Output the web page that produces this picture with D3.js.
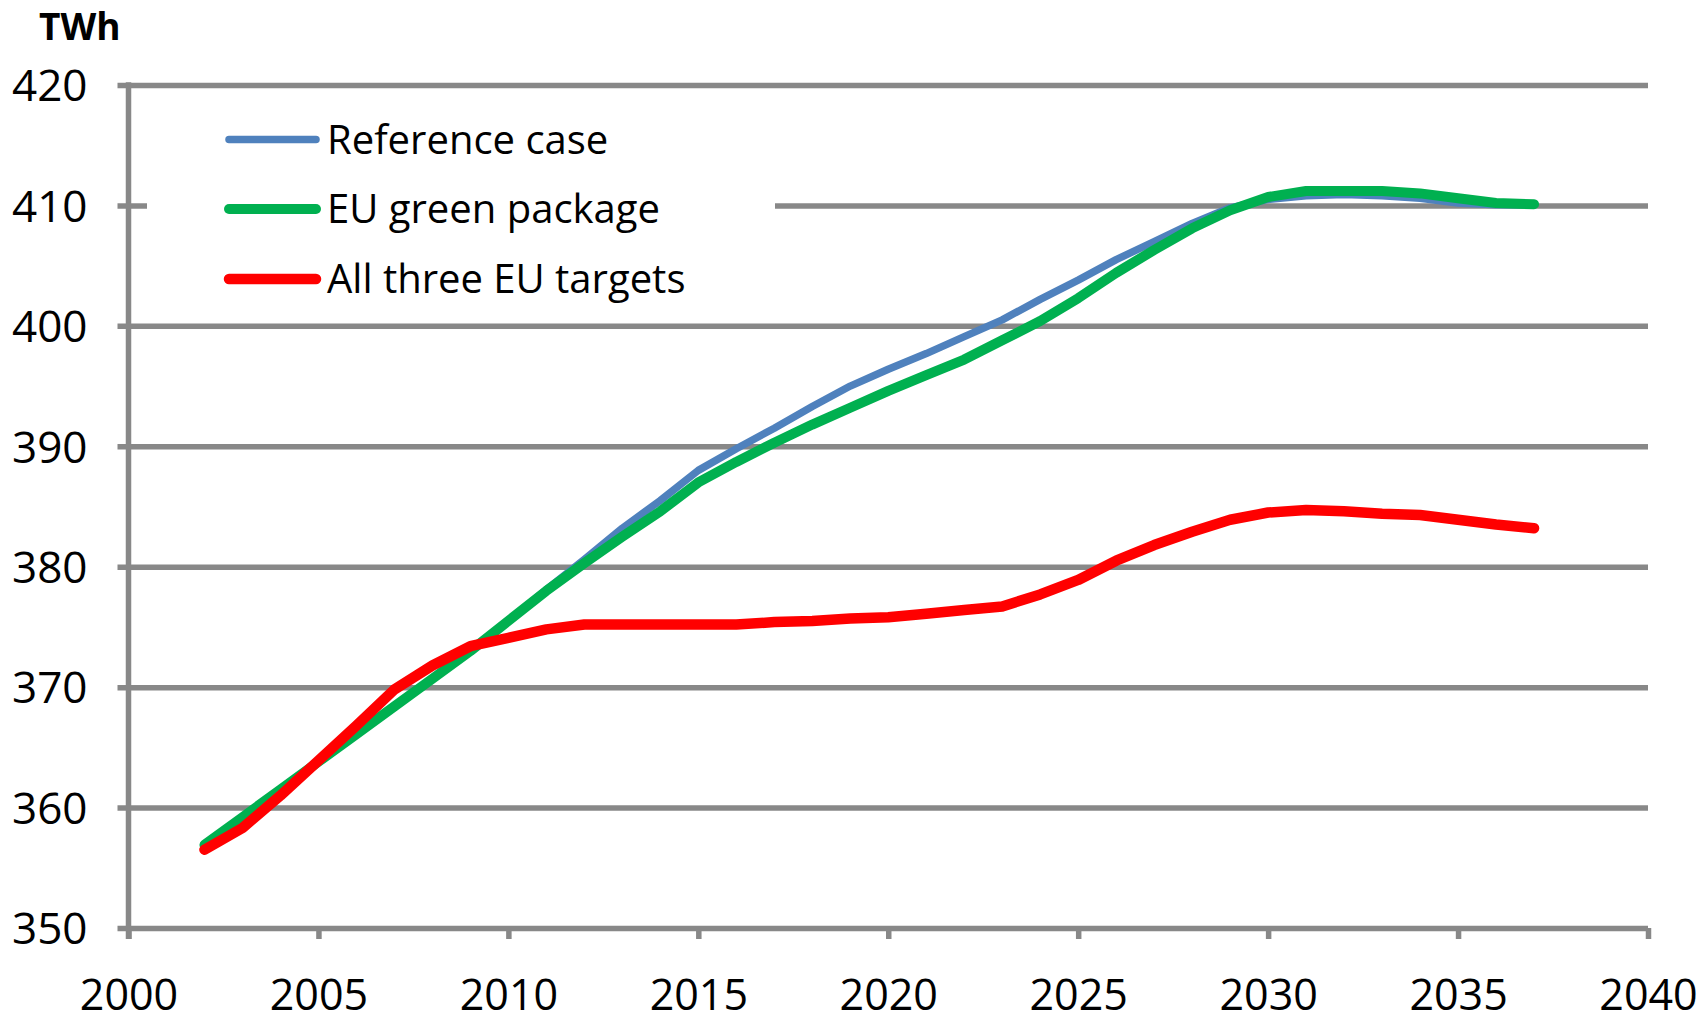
<!DOCTYPE html>
<head>
    <title>TWh scenarios</title>
</head>
<style>
    body { margin: 0; background: #fff; }
    svg, svg text { font-family: "Open Sans", "Noto Sans", sans-serif; }
</style>
<svg width="1708" height="1023"></svg>
<script src="https://d3js.org/d3.v7.min.js"></script>
<script>

    var years = [2002, 2003, 2004, 2005, 2006, 2007, 2008, 2009, 2010, 2011,
                 2012, 2013, 2014, 2015, 2016, 2017, 2018, 2019, 2020, 2021,
                 2022, 2023, 2024, 2025, 2026, 2027, 2028, 2029, 2030, 2031,
                 2032, 2033, 2034, 2035, 2036, 2037];

    var referenceCase = [356.9, 359.2, 361.5, 363.8, 366.1, 368.4, 370.7, 373.0, 375.5, 378.1,
                         380.6, 383.2, 385.5, 388.0, 389.8, 391.5, 393.3, 395.0, 396.4, 397.7,
                         399.1, 400.5, 402.2, 403.8, 405.5, 407.0, 408.5, 409.8, 410.5, 410.8,
                         410.9, 410.8, 410.6, 410.2, 410.05, 410.05];

    var greenPackage = [356.9, 359.2, 361.5, 363.8, 366.1, 368.4, 370.7, 373.0, 375.5, 378.0,
                        380.3, 382.5, 384.6, 387.0, 388.7, 390.3, 391.8, 393.2, 394.6, 395.9,
                        397.2, 398.8, 400.4, 402.3, 404.4, 406.3, 408.1, 409.6, 410.7, 411.2,
                        411.2, 411.2, 411.0, 410.6, 410.2, 410.1];

    var allThree = [356.5, 358.3, 361.0, 363.9, 366.8, 369.8, 371.8, 373.4, 374.1, 374.8,
                    375.2, 375.2, 375.2, 375.2, 375.2, 375.4, 375.5, 375.7, 375.8, 376.1,
                    376.4, 376.7, 377.7, 378.9, 380.5, 381.8, 382.9, 383.9, 384.5, 384.7,
                    384.6, 384.4, 384.3, 383.9, 383.5, 383.2];

    var seriesNames = ["Reference case", "EU green package", "All three EU targets"];
    var seriesColors = ["#4f81bd", "#00b050", "#ff0000"];
    var seriesWidths = [7.5, 10, 10.5];

    var yTicks = [350, 360, 370, 380, 390, 400, 410, 420];
    var xTicks = [2000, 2005, 2010, 2015, 2020, 2025, 2030, 2035, 2040];

    var svg = d3.select("svg"),
        plotL = 128.5, plotR = 1648, plotT = 85, plotB = 928,
        grey = "#888888";

    var x = d3.scaleLinear().domain([2000, 2040]).range([plotL, plotR]);
    var y = d3.scaleLinear().domain([350, 420]).range([plotB, plotT]);

    // y gridlines + labels
    var gy = svg.append("g")
        .attr("transform", "translate(" + plotL + ",0)")
        .call(d3.axisLeft(y).tickValues(yTicks).tickSize(0).tickFormat(d3.format("d")))
        .attr("font-family", null).attr("font-size", null);
    gy.select(".domain").remove();
    gy.selectAll(".tick line")
        .attr("x1", -11).attr("x2", plotR - plotL)
        .attr("stroke", grey).attr("stroke-width", 5.5);
    gy.selectAll(".tick text")
        .attr("x", -41).attr("dy", "0.36em")
        .attr("font-size", 44).attr("fill", "#000");

    // x ticks + labels
    var gx = svg.append("g")
        .attr("transform", "translate(0," + plotB + ")")
        .call(d3.axisBottom(x).tickValues(xTicks).tickSize(11).tickFormat(d3.format("d")))
        .attr("font-family", null).attr("font-size", null);
    gx.select(".domain").remove();
    gx.selectAll(".tick line").attr("stroke", grey).attr("stroke-width", 5.5);
    gx.selectAll(".tick text")
        .attr("y", 82).attr("dy", 0)
        .attr("font-size", 43).attr("fill", "#000");

    // y axis line
    svg.append("line")
        .attr("x1", plotL).attr("x2", plotL)
        .attr("y1", plotT - 2.75).attr("y2", plotB + 11)
        .attr("stroke", grey).attr("stroke-width", 5.5);

    svg.append("text")
        .attr("x", 39).attr("y", 40)
        .attr("font-size", 37).attr("font-weight", "bold")
        .text("TWh");

    // legend box sits over the gridlines
    var legend = svg.append("g");
    legend.append("rect")
        .attr("x", 147).attr("y", 98).attr("width", 628).attr("height", 222)
        .attr("fill", "#fff");

    var legendRows = [139.5, 209, 279];
    seriesNames.forEach(function(name, i) {
        legend.append("line")
            .attr("x1", 229).attr("x2", 316)
            .attr("y1", legendRows[i]).attr("y2", legendRows[i])
            .attr("stroke", seriesColors[i]).attr("stroke-width", seriesWidths[i])
            .attr("stroke-linecap", "round");
        legend.append("text")
            .attr("x", 327).attr("y", legendRows[i]).attr("dy", "0.36em")
            .attr("font-size", 40)
            .text(name);
    });

    var line = d3.line()
        .x(function(d) { return x(d[0]); })
        .y(function(d) { return y(d[1]); });

    [referenceCase, greenPackage, allThree].forEach(function(vals, i) {
        svg.append("path")
            .datum(years.map(function(yr, j) { return [yr, vals[j]]; }))
            .attr("d", line)
            .attr("fill", "none")
            .attr("stroke", seriesColors[i])
            .attr("stroke-width", seriesWidths[i])
            .attr("stroke-linejoin", "round")
            .attr("stroke-linecap", "round");
    });

</script>
